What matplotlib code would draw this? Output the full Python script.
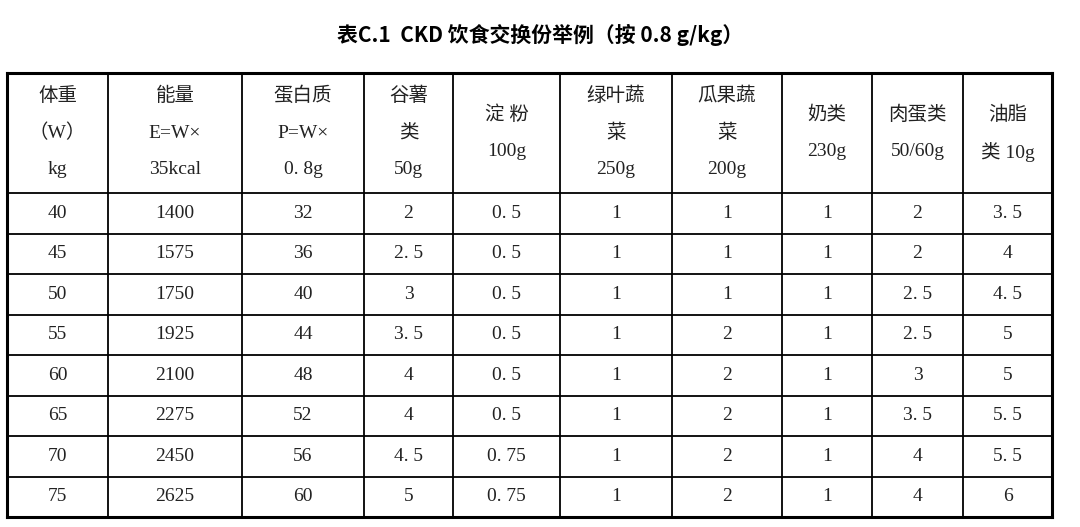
import matplotlib.pyplot as plt

plt.rcParams['font.family'] = ['Liberation Serif', 'Noto Sans CJK SC', 'DejaVu Sans']

title = '表C.1  CKD 饮食交换份举例（按 0.8 g/kg）'
headers = [
    ['体重', '（W）', 'kg'],
    ['能量', 'E=W×', '35kcal'],
    ['蛋白质', 'P=W×', '0. 8g'],
    ['谷薯', '类', '50g'],
    ['淀 粉', '100g'],
    ['绿叶蔬', '菜', '250g'],
    ['瓜果蔬', '菜', '200g'],
    ['奶类', '230g'],
    ['肉蛋类', '50/60g'],
    ['油脂', '类 10g'],
]
weight = ['40', '45', '50', '55', '60', '65', '70', '75']
energy = ['1400', '1575', '1750', '1925', '2100', '2275', '2450', '2625']
protein = ['32', '36', '40', '44', '48', '52', '56', '60']
grain = ['2', '2. 5', '3', '3. 5', '4', '4', '4. 5', '5']
starch = ['0. 5', '0. 5', '0. 5', '0. 5', '0. 5', '0. 5', '0. 75', '0. 75']
leafy = ['1', '1', '1', '1', '1', '1', '1', '1']
melon = ['1', '1', '1', '2', '2', '2', '2', '2']
milk = ['1', '1', '1', '1', '1', '1', '1', '1']
meat = ['2', '2', '2. 5', '2. 5', '3', '3. 5', '4', '4']
oil = ['3. 5', '4', '4. 5', '5', '5', '5. 5', '5. 5', '6']
columns = [weight, energy, protein, grain, starch, leafy, melon, milk, meat, oil]

# layout in pixels
col_x = [7, 108, 242, 364, 453, 560, 672, 782, 872, 963, 1052]
top, head_bottom, bottom = 73, 193, 517
n_rows = len(weight)
row_h = (bottom - head_bottom) / n_rows

fig = plt.figure(figsize=(10.8, 5.27), dpi=100)
ax = fig.add_axes([0, 0, 1, 1])
ax.set_xlim(0, 1080)
ax.set_ylim(527, 0)
ax.axis('off')

ax.text(540, 35, title, ha='center', va='center', fontsize=15, fontweight='bold',
        family=['Noto Sans CJK SC', 'DejaVu Sans'])

# grid lines
for i, x in enumerate(col_x):
    lw = 2.2 if i in (0, len(col_x) - 1) else 1.3
    ax.plot([x, x], [top, bottom], color='black', lw=lw)
ys = [top, head_bottom] + [head_bottom + row_h * (r + 1) for r in range(n_rows)]
for i, y in enumerate(ys):
    lw = 2.2 if i in (0, len(ys) - 1) else 1.3
    ax.plot([col_x[0], col_x[-1]], [y, y], color='black', lw=lw)

# header text
for c, lines in enumerate(headers):
    cx = (col_x[c] + col_x[c + 1]) / 2
    n = len(lines)
    for k, s in enumerate(lines):
        y = (top + head_bottom) / 2 + (k - (n - 1) / 2) * 37
        ax.text(cx, y, s, ha='center', va='center', fontsize=14, color='#222222')

# body
for c, vals in enumerate(columns):
    cx = (col_x[c] + col_x[c + 1]) / 2
    for r, v in enumerate(vals):
        y = head_bottom + row_h * (r + 0.5)
        ax.text(cx, y, v, ha='center', va='center', fontsize=14, color='#222222')

fig.savefig('out.png', dpi=100)
